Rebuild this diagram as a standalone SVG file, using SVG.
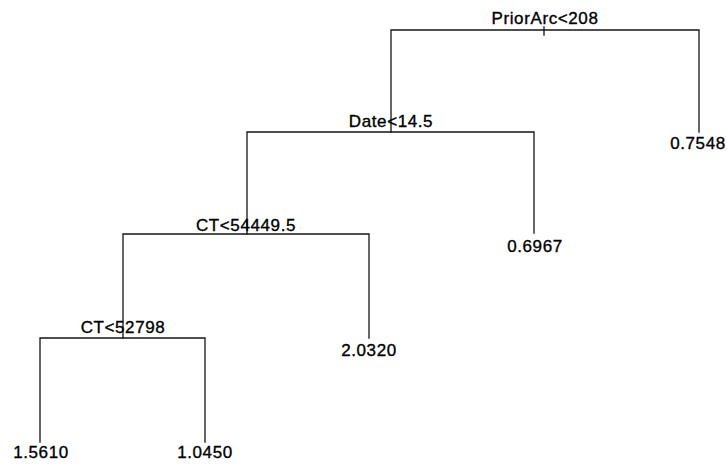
<svg xmlns="http://www.w3.org/2000/svg" width="727" height="464" viewBox="0 0 727 464">
<style>
.c{stroke:#141414;stroke-width:1.3;fill:none;stroke-linecap:square}
.t{font-family:"Liberation Sans",Arial,sans-serif;font-size:17px;letter-spacing:0.6px;fill:#000;stroke:#000;stroke-width:0.35px;text-anchor:middle}
</style>
<rect width="727" height="464" fill="#fff"/>
<g id="connectors">
<path class="c" d="M391,132 V30 H699 V132"/>
<path class="c" d="M544,27 V35"/>
<path class="c" d="M247,234 V132 H534 V233"/>
<path class="c" d="M123,338 V234 H369 V338"/>
<path class="c" d="M40,442 V338 H205 V442"/>
</g>
<g id="n-root"><text class="t" x="545" y="24">PriorArc&lt;208</text></g>
<g id="n-date"><text class="t" x="391" y="127">Date&lt;14.5</text></g>
<g id="n-ct1"><text class="t" x="246" y="231">CT&lt;54449.5</text></g>
<g id="n-ct2"><text class="t" x="123" y="333">CT&lt;52798</text></g>
<g id="leaf-07548"><text class="t" x="698" y="149">0.7548</text></g>
<g id="leaf-06967"><text class="t" x="535" y="252">0.6967</text></g>
<g id="leaf-20320"><text class="t" x="369" y="356">2.0320</text></g>
<g id="leaf-15610"><text class="t" x="41" y="458">1.5610</text></g>
<g id="leaf-10450"><text class="t" x="205" y="458">1.0450</text></g>
</svg>
